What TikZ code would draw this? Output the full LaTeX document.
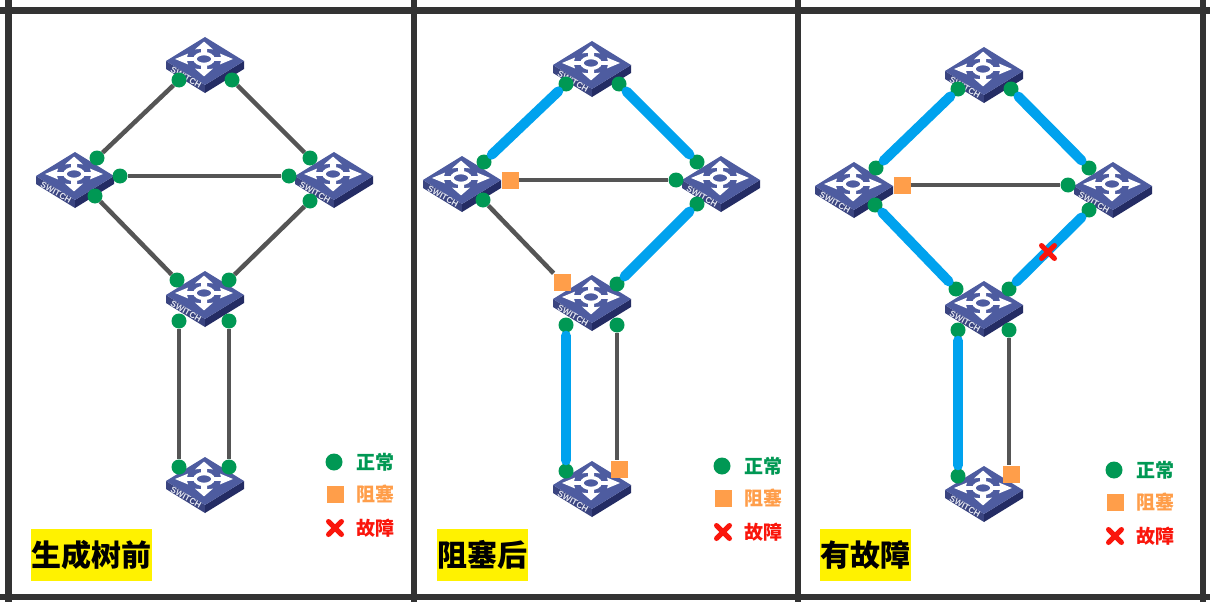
\documentclass[tikz,border=0pt]{standalone}
\usepackage{fontspec}
\setmainfont{Liberation Sans}
\newfontfamily\cjk{Noto Sans CJK SC}
\usepackage{xcolor}
\usepackage{tikz}
\usetikzlibrary{shapes,arrows,positioning}
\definecolor{FrameGray}{RGB}{51,51,51}
\definecolor{LinkGray}{RGB}{85,85,85}
\definecolor{LinkBlue}{RGB}{0,162,238}
\definecolor{PortGreen}{RGB}{0,152,84}
\definecolor{BlockOrange}{RGB}{255,158,74}
\definecolor{FaultRed}{RGB}{250,22,12}
\definecolor{SwitchTop}{RGB}{78,92,160}
\definecolor{SwitchLeft}{RGB}{58,68,128}
\definecolor{SwitchRight}{RGB}{36,44,100}
\tikzset{
  portdot/.style={circle,fill=PortGreen,inner sep=0,minimum size=15pt},
  blockbox/.style={rectangle,fill=BlockOrange,inner sep=0,minimum size=17pt},
  faultmark/.style={cross out,draw=FaultRed,line width=5pt,line cap=round,inner sep=0,minimum size=8pt},
  graylink/.style={line width=4.5pt,color=LinkGray},
  bluelink/.style={line width=10pt,color=LinkBlue,line cap=round,shorten >=3pt,shorten <=3pt},
  legendtext/.style={font=\cjk\bfseries\fontsize{19}{19}\selectfont,inner sep=0,anchor=west},
  titlebox/.style={fill=yellow,font=\cjk\bfseries\fontsize{30}{30}\selectfont,text=black,inner sep=0,minimum height=52pt,anchor=west},
  switchpic/.pic={
    \fill[SwitchLeft] (-39,0) -- (0,24) -- (0,32) -- (-39,8) -- cycle;
    \fill[SwitchRight] (39,0) -- (0,24) -- (0,32) -- (39,8) -- cycle;
    \fill[SwitchTop] (-39,0) -- (0,-24) -- (39,0) -- (0,24) -- cycle;
    \begin{scope}[shift={(-1,-2)},yscale=.6]
      \foreach \turn in {0,90,180,270}
        \fill[white,rotate=\turn] (8,-3) -- (17,-3) -- (16,-9) -- (29,0) -- (16,9) -- (17,3) -- (8,3) -- cycle;
      \draw[white,line width=3.4pt,fill=SwitchTop] (0,0) circle (9);
    \end{scope}
    \node[rotate=-29,font=\bfseries\fontsize{8.5}{8.5}\selectfont,text=white!85!SwitchTop,inner sep=0] (-tag) at (-19,16.5) {SWITCH};
  }
}

\begin{document}
\begin{tikzpicture}[x=1pt,y=-1pt]
    \useasboundingbox (0,0) rectangle (1210,602);
    \fill[white] (0,0) rectangle (1210,602);

    % Frame of the three panels
    \draw[line width=6.5pt,color=FrameGray] (0,10.5) -- (1210,10.5);
    \draw[line width=6.5pt,color=FrameGray] (0,597) -- (1210,597);
    \foreach \barx in {8.5,414,798,1203}
        \draw[line width=6.5pt,color=FrameGray] (\barx,0) -- (\barx,602);

    % Switches of every panel
    \foreach \pre/\ox/\oy in {a/0/0,b/387/4,c/779/10} {
        \pic (\pre top) at (205+\ox,61+\oy) {switchpic};
        \pic (\pre left) at (75+\ox,176+\oy) {switchpic};
        \pic (\pre right) at (334+\ox,176+\oy) {switchpic};
        \pic (\pre mid) at (205+\ox,295+\oy) {switchpic};
    }
    \pic (abot) at (205,481) {switchpic};
    \pic (bbot) at (592,485) {switchpic};
    \pic (cbot) at (984,490) {switchpic};

    % Legends
    \foreach \pre/\lx/\ly in {a/334/462,b/722/466,c/1114/470} {
        \node[portdot,minimum size=17pt] (\pre okdot) at (\lx,\ly) {};
        \node[blockbox] (\pre blockdot) at (\lx+1,\ly+32.5) {};
        \node[faultmark] (\pre faultdot) at (\lx+1,\ly+66) {};
        \node[legendtext,text=PortGreen] (\pre oktext) at (\lx+22.5,\ly) {正常};
        \node[legendtext,text=BlockOrange] (\pre blocktext) at (\lx+22.5,\ly+32.5) {阻塞};
        \node[legendtext,text=FaultRed] (\pre faulttext) at (\lx+22.5,\ly+66) {故障};
    }

    % Panel titles
    \node[titlebox,minimum width=121pt] (atitle) at (31,555) {生成树前};
    \node[titlebox,minimum width=91pt] (btitle) at (437,555) {阻塞后};
    \node[titlebox,minimum width=91pt] (ctitle) at (820,555) {有故障};

    % Panel a - ports
    \node[portdot] (a1) at (179,80) {};
    \node[portdot] (a2) at (232,80) {};
    \node[portdot] (a3) at (97,158) {};
    \node[portdot] (a4) at (120,176) {};
    \node[portdot] (a5) at (95,196) {};
    \node[portdot] (a6) at (310,158) {};
    \node[portdot] (a7) at (289,176) {};
    \node[portdot] (a8) at (310,201) {};
    \node[portdot] (a9) at (177,280) {};
    \node[portdot] (a10) at (229,280) {};
    \node[portdot] (a11) at (179,321) {};
    \node[portdot] (a12) at (229,321) {};
    \node[portdot] (a13) at (179,467) {};
    \node[portdot] (a14) at (229,467) {};

    % Panel a - links
    \draw[graylink] (a1) -- (a3);
    \draw[graylink] (a2) -- (a6);
    \draw[graylink] (a4) -- (a7);
    \draw[graylink] (a5) -- (a9);
    \draw[graylink] (a8) -- (a10);
    \draw[graylink] (a11) -- (a13);
    \draw[graylink] (a12) -- (a14);

    % Panel b - ports
    \node[portdot] (b1) at (566,84) {};
    \node[portdot] (b2) at (619,84) {};
    \node[portdot] (b3) at (484,162) {};
    \node[blockbox] (b4) at (510,180) {};
    \node[portdot] (b5) at (483,200) {};
    \node[portdot] (b6) at (697,162) {};
    \node[portdot] (b7) at (676,180) {};
    \node[portdot] (b8) at (697,204) {};
    \node[blockbox] (b9) at (562,282) {};
    \node[portdot] (b10) at (617,284) {};
    \node[portdot] (b11) at (566,325) {};
    \node[portdot] (b12) at (617,325) {};
    \node[portdot] (b13) at (566,471) {};
    \node[blockbox] (b14) at (619,469) {};

    % Panel b - links
    \draw[bluelink] (b1) -- (b3);
    \draw[bluelink] (b2) -- (b6);
    \draw[graylink] (b4) -- (b7);
    \draw[graylink] (b5) -- (b9);
    \draw[bluelink] (b8) -- (b10);
    \draw[bluelink] (b11) -- (b13);
    \draw[graylink] (b12) -- (b12 |- b14.north);

    % Panel c - ports
    \node[portdot] (c1) at (958,89) {};
    \node[portdot] (c2) at (1011,89) {};
    \node[portdot] (c3) at (876,168) {};
    \node[blockbox] (c4) at (902,185) {};
    \node[portdot] (c5) at (875,205) {};
    \node[portdot] (c6) at (1089,168) {};
    \node[portdot] (c7) at (1068,185) {};
    \node[portdot] (c8) at (1089,210) {};
    \node[portdot] (c9) at (956,289) {};
    \node[portdot] (c10) at (1009,289) {};
    \node[portdot] (c11) at (958,330) {};
    \node[portdot] (c12) at (1009,330) {};
    \node[portdot] (c13) at (958,476) {};
    \node[blockbox] (c14) at (1011,474) {};

    % Panel c - links
    \draw[bluelink] (c1) -- (c3);
    \draw[bluelink] (c2) -- (c6);
    \draw[graylink] (c4) -- (c7);
    \draw[bluelink] (c5) -- (c9);
    \draw[bluelink] (c8) -- (c10);
    \draw[bluelink] (c11) -- (c13);
    \draw[graylink] (c12) -- (c12 |- c14.north);
    \node[faultmark] (cfault) at (1048,252) {};
\end{tikzpicture}
\end{document}
